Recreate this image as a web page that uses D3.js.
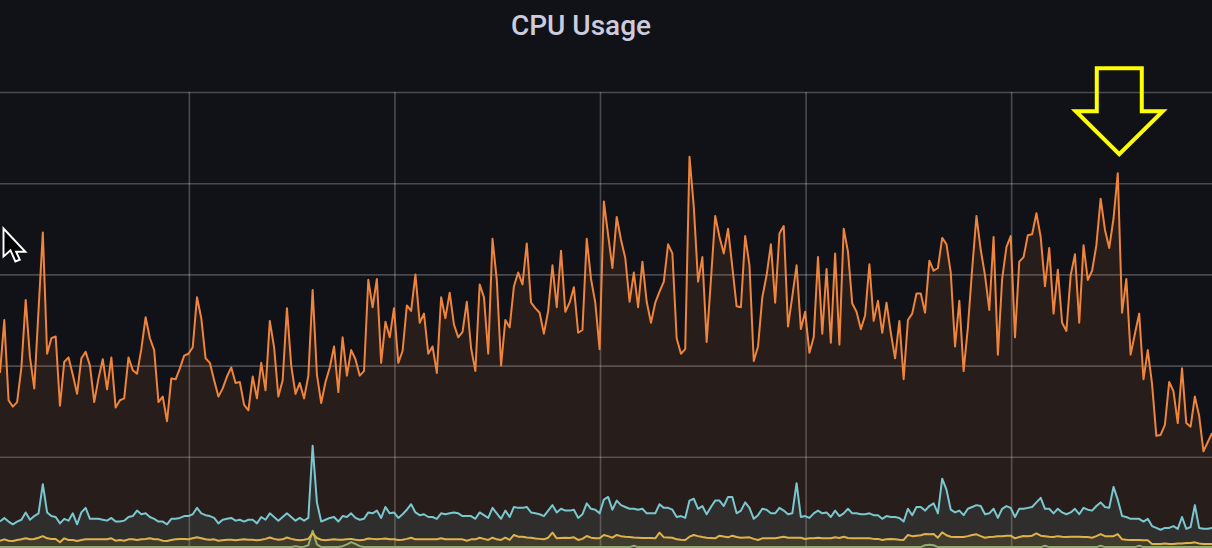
<!DOCTYPE html>
<html>
<head>
<meta charset="utf-8">
<title>CPU Usage</title>
<script src="https://cdn.jsdelivr.net/npm/d3@7"></script>
<style>
    html, body { margin: 0; padding: 0; background: #111217; overflow: hidden; }
    svg { display: block; }
</style>
</head>
<body>
<div id="chart"></div>
<script>
// Sampling: one point every 10 s
const startTime = "2021-03-15 13:52:39";
const stepSeconds = 10;

// Grid ticks
const timeTicks = ["14:00", "14:08", "14:16", "14:24", "14:32"];
const valueTicks = [10, 20, 30, 40, 50];
const valueMax = 50;

// Series values (percent)
const orangeValues = [
    19.2, 25.0, 16.2, 15.5, 16.0, 19.8, 27.2, 20.9, 17.5, 26.1,
    34.6, 21.3, 23.0, 23.2, 15.6, 20.4, 20.9, 19.0, 16.9, 20.8,
    21.5, 20.0, 16.0, 18.6, 20.7, 17.4, 20.9, 15.4, 16.2, 16.4,
    20.9, 19.5, 19.1, 21.8, 25.3, 23.0, 21.7, 16.0, 16.6, 13.9,
    18.6, 18.5, 19.7, 21.1, 21.3, 22.0, 27.5, 25.2, 20.8, 20.3,
    18.4, 16.6, 17.5, 18.8, 19.8, 18.1, 18.2, 15.7, 15.1, 18.8,
    16.4, 20.3, 17.3, 24.9, 22.0, 16.6, 18.4, 26.3, 20.0, 16.9,
    18.1, 16.4, 18.9, 28.3, 19.0, 15.9, 18.2, 19.8, 22.1, 17.1,
    23.1, 18.9, 21.7, 20.7, 18.9, 19.4, 29.4, 26.4, 29.5, 20.3,
    24.8, 23.1, 26.3, 20.3, 21.6, 26.6, 26.0, 30.0, 24.7, 25.7,
    21.3, 22.1, 19.2, 27.5, 25.2, 28.0, 24.5, 23.1, 23.7, 27.0,
    21.9, 19.4, 28.9, 27.5, 21.3, 33.9, 29.4, 20.0, 25.0, 24.2,
    28.7, 30.2, 28.9, 33.4, 26.9, 26.3, 25.8, 23.5, 26.0, 31.0,
    26.4, 32.6, 25.9, 26.9, 28.6, 23.6, 23.9, 33.9, 29.5, 26.9,
    21.8, 38.0, 34.3, 30.7, 36.3, 33.8, 31.8, 27.0, 30.2, 26.4,
    31.4, 27.0, 24.7, 26.9, 28.1, 29.2, 33.3, 32.3, 23.0, 21.3,
    21.8, 42.9, 37.4, 29.2, 31.9, 22.6, 29.4, 36.4, 34.1, 32.3,
    35.0, 30.8, 26.5, 26.4, 34.2, 31.0, 20.5, 22.1, 27.5, 29.9,
    33.3, 26.9, 34.5, 35.3, 24.3, 27.6, 31.0, 24.0, 25.9, 21.4,
    23.1, 31.9, 23.5, 30.6, 22.5, 32.3, 22.3, 35.0, 32.5, 26.8,
    25.9, 24.0, 25.5, 31.1, 24.9, 27.1, 23.6, 26.9, 23.6, 20.8,
    24.9, 18.5, 25.0, 25.7, 27.9, 27.9, 25.8, 31.5, 30.4, 30.7,
    34.0, 33.3, 30.2, 22.1, 27.1, 19.4, 24.2, 30.6, 36.4, 32.7,
    29.9, 26.1, 34.1, 21.2, 29.5, 33.0, 34.2, 23.1, 31.4, 31.9,
    34.3, 34.4, 36.7, 34.1, 28.7, 32.9, 25.7, 30.5, 24.7, 23.8,
    29.9, 32.2, 24.7, 33.2, 29.4, 30.4, 33.2, 38.3, 34.9, 32.9,
    36.1, 41.1, 25.8, 29.5, 21.2, 23.5, 25.7, 18.5, 21.7, 18.0,
    12.3, 12.4, 13.5, 18.2, 17.2, 13.7, 19.7, 13.7, 13.3, 16.6,
    14.5, 10.6, 11.6, 12.6
];

const cyanValues = [
    2.9, 3.3, 2.9, 2.6, 2.9, 3.1, 3.9, 3.1, 3.5, 3.8,
    7.0, 3.9, 3.5, 3.4, 2.7, 3.2, 3.0, 3.8, 2.6, 3.9,
    4.4, 3.2, 3.2, 3.2, 3.1, 3.0, 3.3, 2.9, 2.9, 3.0,
    3.4, 3.5, 4.1, 3.7, 3.8, 3.4, 3.2, 2.9, 2.9, 2.6,
    3.2, 3.2, 3.3, 3.5, 3.5, 3.7, 4.4, 3.8, 3.6, 3.5,
    3.3, 2.7, 3.1, 3.2, 3.3, 3.0, 3.1, 2.9, 3.1, 3.1,
    2.7, 3.4, 3.1, 3.8, 3.4, 3.0, 3.4, 3.8, 3.4, 3.0,
    3.3, 3.0, 3.3, 11.2, 5.0, 2.9, 3.1, 3.3, 3.4, 2.9,
    3.5, 3.4, 3.8, 3.3, 3.1, 3.2, 3.9, 3.8, 4.1, 3.3,
    4.5, 3.8, 3.9, 3.3, 3.7, 4.2, 4.8, 3.9, 3.6, 3.7,
    3.4, 3.4, 3.2, 3.8, 3.7, 3.8, 3.9, 3.8, 3.5, 3.5,
    3.5, 3.2, 3.9, 3.6, 3.3, 4.4, 3.8, 3.2, 4.1, 3.4,
    4.5, 4.4, 4.4, 4.5, 3.9, 3.8, 3.7, 3.5, 4.1, 4.7,
    3.9, 4.3, 4.1, 4.1, 4.2, 3.3, 3.7, 4.9, 4.3, 4.2,
    3.8, 5.3, 5.6, 4.2, 5.2, 4.7, 4.5, 4.3, 4.3, 4.2,
    4.3, 3.8, 3.8, 3.8, 4.8, 4.4, 4.4, 4.2, 3.4, 3.5,
    3.3, 5.2, 5.4, 4.3, 4.6, 3.7, 4.5, 5.2, 5.2, 4.6,
    5.6, 5.6, 3.8, 4.1, 5.0, 4.4, 3.2, 3.6, 4.3, 4.2,
    3.8, 3.8, 4.4, 4.1, 3.7, 3.8, 7.1, 3.4, 3.5, 3.3,
    3.8, 4.1, 3.8, 3.9, 3.4, 4.1, 3.5, 3.8, 4.3, 3.8,
    3.8, 3.7, 3.7, 3.8, 3.6, 3.6, 3.2, 3.5, 3.4, 3.4,
    3.3, 2.9, 4.3, 3.6, 4.5, 4.5, 4.1, 4.6, 4.9, 3.8,
    7.6, 6.4, 4.2, 3.9, 4.1, 3.6, 4.3, 4.5, 4.7, 4.6,
    3.7, 3.8, 4.3, 3.3, 4.3, 4.6, 4.4, 3.4, 4.3, 4.3,
    4.4, 4.5, 5.0, 5.5, 4.3, 4.3, 3.8, 4.3, 3.9, 3.7,
    3.9, 4.3, 3.7, 4.4, 4.2, 4.1, 4.6, 5.0, 4.5, 4.4,
    6.7, 5.3, 3.5, 3.4, 3.2, 3.2, 3.2, 2.9, 3.2, 2.4,
    2.2, 2.0, 2.2, 2.2, 2.4, 2.1, 3.4, 2.1, 2.3, 4.7,
    2.2, 2.1, 2.1, 2.2
];

const yellowValues = [
    0.80, 0.95, 0.80, 0.77, 0.88, 0.95, 1.06, 0.95, 0.99, 1.13,
    1.30, 1.06, 0.99, 0.99, 0.63, 1.06, 0.88, 0.88, 0.77, 0.88,
    0.95, 0.95, 0.95, 0.95, 0.95, 0.95, 1.06, 0.80, 0.88, 0.80,
    0.95, 0.95, 0.88, 0.95, 0.99, 1.06, 0.95, 0.95, 0.80, 0.77,
    0.88, 0.95, 0.99, 0.99, 0.95, 1.06, 1.17, 1.06, 0.95, 0.90,
    0.95, 0.80, 0.85, 0.90, 0.90, 0.85, 0.90, 0.95, 0.90, 0.90,
    0.85, 0.90, 1.00, 1.15, 1.00, 0.90, 0.95, 1.15, 1.00, 0.90,
    0.85, 0.90, 1.00, 1.60, 1.10, 0.90, 0.85, 0.90, 0.95, 0.90,
    0.90, 0.95, 1.00, 0.90, 0.85, 0.90, 1.05, 1.00, 0.95, 1.00,
    1.05, 0.95, 0.95, 0.88, 0.90, 1.00, 1.13, 0.95, 0.95, 0.95,
    0.95, 0.95, 0.95, 1.06, 0.95, 0.95, 0.95, 0.95, 0.95, 0.80,
    0.95, 0.95, 1.13, 1.00, 0.88, 1.13, 0.95, 0.88, 1.13, 0.88,
    1.43, 1.24, 1.24, 1.15, 1.13, 1.05, 1.00, 0.95, 1.13, 1.68,
    1.06, 1.10, 1.13, 1.10, 1.17, 0.88, 1.00, 1.32, 1.13, 1.06,
    1.06, 1.43, 1.30, 1.13, 1.43, 1.30, 1.24, 1.20, 1.15, 1.13,
    1.10, 1.10, 1.10, 1.06, 1.68, 1.17, 1.15, 1.13, 0.95, 0.90,
    0.88, 1.24, 1.43, 1.30, 1.20, 1.13, 1.10, 1.06, 1.35, 1.25,
    1.17, 1.35, 1.20, 1.13, 1.15, 1.17, 1.00, 0.88, 1.06, 1.06,
    1.06, 1.06, 1.15, 1.24, 1.13, 1.13, 1.13, 1.13, 0.99, 1.06,
    1.06, 1.13, 1.06, 1.06, 1.06, 1.17, 1.10, 1.24, 1.10, 1.06,
    1.06, 1.06, 1.06, 1.06, 1.00, 1.00, 0.88, 0.95, 0.99, 0.95,
    0.90, 0.88, 1.43, 1.30, 1.35, 1.40, 1.53, 1.50, 1.53, 1.13,
    1.72, 1.40, 1.24, 1.20, 1.20, 1.20, 1.30, 1.43, 1.50, 1.30,
    1.13, 1.20, 1.24, 1.30, 1.30, 1.35, 1.35, 1.06, 1.20, 1.32,
    1.30, 1.35, 1.60, 1.35, 1.30, 1.24, 1.20, 1.30, 1.24, 1.20,
    1.24, 1.24, 1.24, 1.20, 1.20, 1.13, 1.30, 1.53, 1.30, 1.30,
    1.30, 1.53, 0.95, 0.90, 0.88, 0.88, 0.88, 0.85, 0.85, 0.44,
    0.44, 0.44, 0.50, 0.44, 0.44, 0.50, 0.50, 0.55, 0.55, 0.62,
    0.50, 0.44, 0.44, 0.44
];

const greenValues = [
    0.1, 0.1, 0.1, 0.1, 0.1, 0.1, 0.1, 0.1, 0.1, 0.1,
    0.1, 0.1, 0.1, 0.1, 0.1, 0.1, 0.1, 0.1, 0.1, 0.1,
    0.1, 0.1, 0.1, 0.1, 0.1, 0.1, 0.1, 0.1, 0.1, 0.1,
    0.1, 0.1, 0.1, 0.1, 0.1, 0.1, 0.1, 0.1, 0.1, 0.1,
    0.1, 0.1, 0.1, 0.1, 0.1, 0.1, 0.1, 0.1, 0.1, 0.1,
    0.1, 0.1, 0.1, 0.1, 0.1, 0.1, 0.1, 0.1, 0.1, 0.1,
    0.1, 0.1, 0.1, 0.1, 0.1, 0.1, 0.1, 0.1, 0.1, 0.2,
    0.1, 0.15, 0.3, 1.9, 0.4, 0.1, 0.1, 0.1, 0.1, 0.1,
    0.2, 0.4, 0.65, 0.45, 0.2, 0.1, 0.1, 0.1, 0.1, 0.1,
    0.1, 0.1, 0.1, 0.1, 0.1, 0.1, 0.1, 0.1, 0.1, 0.1,
    0.1, 0.1, 0.1, 0.1, 0.1, 0.1, 0.1, 0.1, 0.1, 0.1,
    0.1, 0.1, 0.1, 0.1, 0.1, 0.1, 0.1, 0.1, 0.1, 0.1,
    0.1, 0.1, 0.1, 0.1, 0.1, 0.1, 0.1, 0.1, 0.1, 0.1,
    0.1, 0.1, 0.1, 0.1, 0.1, 0.1, 0.1, 0.1, 0.1, 0.1,
    0.1, 0.1, 0.1, 0.1, 0.1, 0.1, 0.1, 0.1, 0.25, 0.1,
    0.1, 0.1, 0.1, 0.1, 0.1, 0.1, 0.1, 0.1, 0.1, 0.1,
    0.1, 0.1, 0.1, 0.1, 0.1, 0.1, 0.1, 0.1, 0.1, 0.1,
    0.1, 0.1, 0.1, 0.1, 0.1, 0.1, 0.1, 0.1, 0.1, 0.1,
    0.1, 0.1, 0.1, 0.1, 0.1, 0.1, 0.1, 0.1, 0.1, 0.1,
    0.1, 0.1, 0.1, 0.1, 0.1, 0.1, 0.1, 0.1, 0.1, 0.1,
    0.1, 0.1, 0.1, 0.1, 0.1, 0.1, 0.1, 0.1, 0.1, 0.1,
    0.1, 0.1, 0.1, 0.1, 0.1, 0.1, 0.3, 0.35, 0.3, 0.1,
    0.1, 0.1, 0.1, 0.1, 0.1, 0.1, 0.1, 0.1, 0.1, 0.1,
    0.1, 0.1, 0.1, 0.1, 0.1, 0.1, 0.1, 0.1, 0.1, 0.1,
    0.1, 0.1, 0.1, 0.1, 0.25, 0.1, 0.1, 0.1, 0.1, 0.1,
    0.1, 0.1, 0.1, 0.1, 0.1, 0.1, 0.1, 0.25, 0.1, 0.1,
    0.1, 0.1, 0.1, 0.1, 0.1, 0.1, 0.25, 0.1, 0.1, 0.1,
    0.1, 0.1, 0.1, 0.1, 0.1, 0.1, 0.1, 0.1, 0.1, 0.1,
    0.1, 0.1, 0.1, 0.1
];

// Drawn in order, last on top
const seriesList = [
    { name: "green", values: greenValues, color: "#7EB26D" },
    { name: "yellow", values: yellowValues, color: "#EAB839" },
    { name: "cyan", values: cyanValues, color: "#6ED0E0" },
    { name: "orange", values: orangeValues, color: "#EF843C" }
];

// The peak the annotation arrow points at
const markedIndex = 261;

// Configuration
const config = {
    width: 1212,
    height: 548,
    plot: { left: 0, right: 1212, top: 92, bottom: 548 },
    lineWidth: 2,
    fillOpacity: 0.1,
    colors: {
        background: "#111217",
        grid: "rgba(255,255,255,0.24)",
        title: "#ccccdc",
        annotation: "#ffff00"
    }
};

const parseFull = d3.timeParse("%Y-%m-%d %H:%M:%S");
const parseTick = d3.timeParse("%Y-%m-%d %H:%M");

function drawChart() {
    const { width, height, plot } = config;
    const t0 = parseFull(startTime);
    const n = orangeValues.length;
    const times = d3.range(n).map(i => new Date(t0.getTime() + i * stepSeconds * 1000));
    const day = startTime.slice(0, 10);
    const gridDates = timeTicks.map(t => parseTick(`${day} ${t}`));

    const svg = d3.select("#chart").append("svg")
        .attr("width", width)
        .attr("height", height)
        .style("background", config.colors.background);

    // Scales
    const x = d3.scaleTime()
        .domain([times[0], times[n - 1]])
        .range([plot.left, plot.right]);

    const y = d3.scaleLinear()
        .domain([0, valueMax])
        .range([plot.bottom, plot.top]);

    // Grid: horizontal lines
    const yGrid = svg.append("g")
        .attr("class", "grid y-grid")
        .attr("transform", `translate(${plot.left},0)`)
        .call(d3.axisLeft(y)
            .tickValues(valueTicks)
            .tickSize(-(plot.right - plot.left))
            .tickFormat(""));

    // Grid: vertical lines
    const xGrid = svg.append("g")
        .attr("class", "grid x-grid")
        .attr("transform", `translate(0,${plot.bottom})`)
        .call(d3.axisBottom(x)
            .tickValues(gridDates)
            .tickSize(-(plot.bottom - plot.top))
            .tickFormat(""));

    [yGrid, xGrid].forEach(grid => {
        grid.select(".domain").remove();
        grid.selectAll(".tick line")
            .attr("stroke", config.colors.grid)
            .attr("stroke-width", 1.6);
    });

    // Series: fill to zero, then the line
    const area = d3.area()
        .x((d, i) => x(times[i]))
        .y0(y(0))
        .y1(d => y(d));

    const line = d3.line()
        .x((d, i) => x(times[i]))
        .y(d => y(d));

    const seriesGroup = svg.append("g").attr("class", "series");

    seriesList.forEach(s => {
        seriesGroup.append("path")
            .datum(s.values)
            .attr("fill", s.color)
            .attr("fill-opacity", config.fillOpacity)
            .attr("d", area);

        seriesGroup.append("path")
            .datum(s.values)
            .attr("fill", "none")
            .attr("stroke", s.color)
            .attr("stroke-width", config.lineWidth)
            .attr("stroke-linejoin", "round")
            .attr("d", line);
    });

    // Title
    svg.append("text")
        .attr("x", 581)
        .attr("y", 35)
        .attr("text-anchor", "middle")
        .attr("fill", config.colors.title)
        .style("font-family", "Roboto, 'Noto Sans', sans-serif")
        .style("font-size", "28px")
        .style("font-weight", 500)
        .text("CPU Usage");

    // Arrow annotation pointing down at the marked peak
    const tipX = x(times[markedIndex]) + 1.5;
    const tipY = y(orangeValues[markedIndex]) - 19;
    const arrowShape = [
        [-22.5, -86], [22.5, -86], [22.5, -43], [43.5, -43],
        [0, 0], [-43.5, -43], [-22.5, -43]
    ];
    svg.append("polygon")
        .attr("points", arrowShape.map(p => [tipX + p[0], tipY + p[1]].join(",")).join(" "))
        .attr("fill", "none")
        .attr("stroke", config.colors.annotation)
        .attr("stroke-width", 4)
        .attr("stroke-linejoin", "miter");

    // Mouse pointer left in the screenshot
    const pointer = [[0, 0], [0, 16], [4, 12.5], [6.8, 18.8], [9.3, 17.8], [7.2, 13.3], [12.5, 13.3]];
    svg.append("polygon")
        .attr("transform", "translate(3.5,228.5) scale(1.75)")
        .attr("points", pointer.map(p => p.join(",")).join(" "))
        .attr("fill", "#000")
        .attr("stroke", "#fff")
        .attr("stroke-width", 1.1)
        .attr("stroke-linejoin", "miter");
}

drawChart();
</script>
</body>
</html>
